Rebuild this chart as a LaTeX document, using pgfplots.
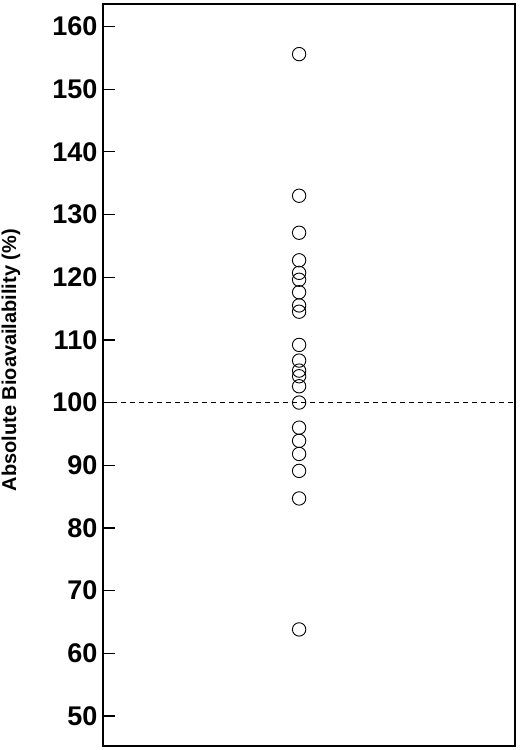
\documentclass[border=0pt]{standalone}
\usepackage{pgfplots}
\pgfplotsset{compat=1.18}
\usepackage{fontspec}
\setmainfont{Liberation Sans}
\begin{document}
\begin{tikzpicture}
\useasboundingbox (-103bp,-4bp) rectangle (417bp,746bp);
\begin{axis}[
  scale only axis,
  width=412bp, height=742bp,
  xmin=0, xmax=1,
  ymin=45.2, ymax=163.6,
  xtick=\empty,
  ytick={50,60,...,160},
  tick align=inside,
  ytick pos=left,
  major tick length=12bp,
  every tick/.style={black, line width=1.2bp},
  axis line style={line width=1.4bp},
  /pgf/number format/assume math mode=true,
  yticklabel style={font=\fontsize{27bp}{30bp}\selectfont\bfseries, inner sep=0pt, xshift=-5.5bp},
  ylabel={Absolute Bioavailability (\%)},
  every axis y label/.style={at={(axis description cs:-0.2233,0.52)}, rotate=90, anchor=center, font=\fontsize{20bp}{24bp}\selectfont\bfseries},
  clip=false,
]
\addplot[black, dashed, line width=1bp, dash pattern=on 5bp off 4bp, forget plot] coordinates {(0,100) (1,100)};
\addplot[only marks, mark=o, mark size=6.7bp, mark options={line width=0.9bp, black}] coordinates {
(0.476,155.6) (0.476,133.0) (0.476,127.1) (0.476,122.7) (0.476,120.7) (0.476,119.6)
(0.476,117.6) (0.476,115.5) (0.476,114.5) (0.476,109.2) (0.476,106.7) (0.476,105.1)
(0.476,104.2) (0.476,102.6) (0.476,100.0) (0.476,96.0) (0.476,93.9) (0.476,91.8)
(0.476,89.1) (0.476,84.7) (0.476,63.8)
};
\end{axis}
\end{tikzpicture}
\end{document}
